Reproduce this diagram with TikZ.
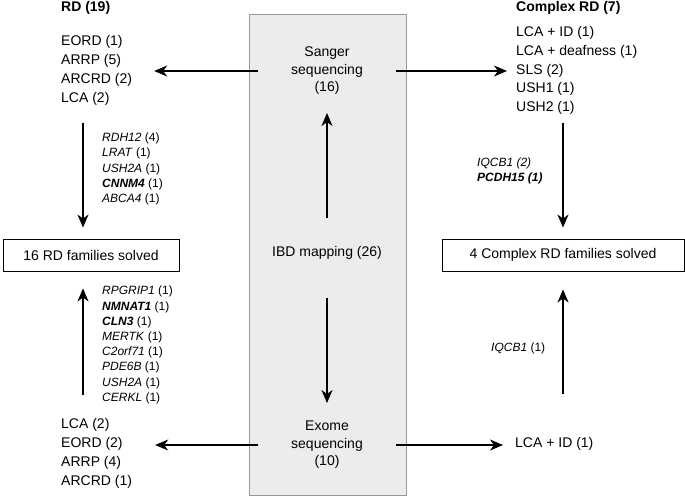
\documentclass[tikz,border=0pt]{standalone}
\usepackage{fontspec}
\setmainfont{Liberation Sans}
\usetikzlibrary{arrows.meta,positioning}

\definecolor{panelfill}{RGB}{235,236,238}
\definecolor{panelline}{RGB}{150,150,150}
\newcommand{\gn}[1]{\textit{#1}}
\newcommand{\gb}[1]{\textbf{\textit{#1}}}

\tikzset{
    txt/.style={inner sep=0pt, align=left, font=\fontsize{14}{19}\selectfont},
    genes/.style={inner sep=0pt, align=left, font=\fontsize{12}{15.2}\selectfont},
    method/.style={inner sep=0pt, align=center, minimum width=137pt, font=\fontsize{14}{17.5}\selectfont},
    solvedbox/.style={rectangle, draw, line width=0.9pt, minimum height=32pt, font=\fontsize{14}{17}\selectfont},
    flow/.style={line width=1.1pt, -{Stealth[length=13pt,width=11pt,inset=4pt]}},
}

\begin{document}
\begin{tikzpicture}
    \useasboundingbox (0pt,0pt) rectangle (685pt,-496pt);
    % central panel
    \draw[draw=panelline, fill=panelfill, line width=0.8pt] (249pt,-14pt) rectangle (406pt,-495pt);
    \node[method] (sanger) at (327pt,-71pt) {Sanger\\sequencing\\(16)};
    \node[method] (ibd) at (327pt,-253pt) {IBD mapping (26)};
    \node[method] (exome) at (327pt,-445pt) {Exome\\sequencing\\(10)};

    % RD side
    \node[txt, anchor=west, font=\bfseries\fontsize{14}{19}\selectfont] (rdhead) at (61pt,-8pt) {RD (19)};
    \node[txt, anchor=west] (rdtop) at (61pt,-70.5pt) {EORD (1)\\ARRP (5)\\ARCRD (2)\\LCA (2)};
    \node[genes, anchor=west] (rdgenesA) at (102pt,-169pt)
        {\gn{RDH12} (4)\\\gn{LRAT} (1)\\\gn{USH2A} (1)\\\gb{CNNM4} (1)\\\gn{ABCA4} (1)};
    \node[solvedbox, minimum width=176pt] (rdbox) at (91pt,-255pt) {16 RD families solved};
    \node[genes, anchor=west] (rdgenesB) at (102pt,-345pt)
        {\gn{RPGRIP1} (1)\\\gb{NMNAT1} (1)\\\gb{CLN3} (1)\\\gn{MERTK} (1)\\\gn{C2orf71} (1)\\\gn{PDE6B} (1)\\\gn{USH2A} (1)\\\gn{CERKL} (1)};
    \node[txt, anchor=west] (rdbot) at (61pt,-453pt) {LCA (2)\\EORD (2)\\ARRP (4)\\ARCRD (1)};

    % complex RD side
    \node[txt, anchor=west, font=\bfseries\fontsize{14}{19}\selectfont] (cxhead) at (516pt,-8pt) {Complex RD (7)};
    \node[txt, anchor=west, font=\fontsize{14}{18.8}\selectfont] (cxtop) at (516pt,-70.5pt)
        {LCA + ID (1)\\LCA + deafness (1)\\SLS (2)\\USH1 (1)\\USH2 (1)};
    \node[genes, anchor=west] (cxgenesA) at (477pt,-171pt) {\gn{IQCB1 (2)}\\\gb{PCDH15 (1)}};
    \node[solvedbox, minimum width=242pt] (cxbox) at (563pt,-255pt) {4 Complex RD families solved};
    \node[genes, anchor=west] (cxgenesB) at (491pt,-348pt) {\gn{IQCB1} (1)};
    \node[txt, anchor=west] (lcaid) at (515pt,-444pt) {LCA + ID (1)};

    % arrows
    \draw[flow, shorten <=28pt, shorten >=18pt] (ibd) -- (sanger);
    \draw[flow, shorten <=38pt, shorten >=18pt] (ibd) -- (exome);
    \draw[flow, shorten >=22pt] (sanger.west) -- (sanger.west -| rdtop.east);
    \draw[flow, shorten >=9pt] (sanger.east) -- (sanger.east -| cxtop.west);
    \draw[flow, shorten >=23pt] (exome.west) -- (exome.west -| rdbot.east);
    \draw[flow, shorten >=12pt] (exome.east) -- (exome.east -| lcaid.west);
    \draw[flow, shorten <=17pt, shorten >=11pt] ([xshift=-8pt]rdbox.north |- rdtop.south) -- ([xshift=-8pt]rdbox.north);
    \draw[flow, shorten <=23pt, shorten >=17pt] ([xshift=-8pt]rdbox.south |- rdbot.north) -- ([xshift=-8pt]rdbox.south);
    \draw[flow, shorten <=8pt, shorten >=11pt] (cxbox.north |- cxtop.south) -- (cxbox.north);
    \draw[flow, shorten <=43pt, shorten >=18pt] (cxbox.south |- lcaid.north) -- (cxbox.south);
\end{tikzpicture}
\end{document}
